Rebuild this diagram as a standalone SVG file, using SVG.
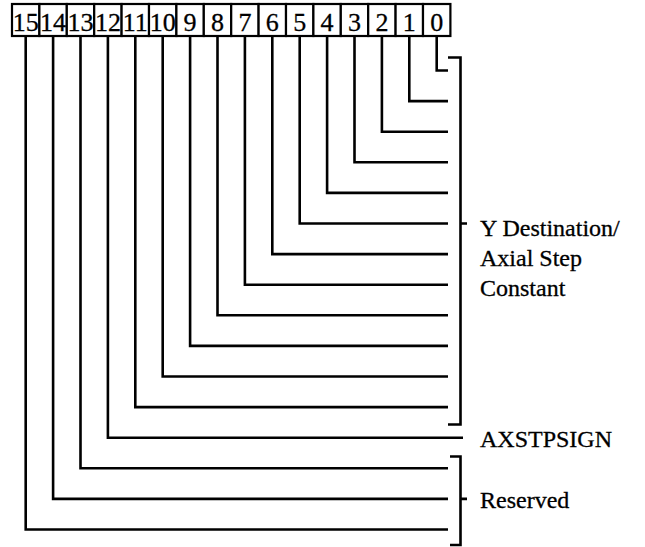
<svg xmlns="http://www.w3.org/2000/svg" width="645" height="547" viewBox="0 0 645 547">
<style>
.box{fill:#fff;stroke:#000;stroke-width:2.2}
.num{font-family:"Liberation Serif","Times New Roman",serif;font-size:26px;text-anchor:middle;fill:#000;stroke:#000;stroke-width:0.3}
.lbl{font-family:"Liberation Serif","Times New Roman",serif;font-size:24px;fill:#000;stroke:#000;stroke-width:0.3}
.ln{fill:none;stroke:#000;stroke-width:2.6;stroke-linejoin:miter;stroke-linecap:butt}
</style>
<rect width="645" height="547" fill="#fff"/>
<g id="bits">
<g id="bit15"><rect class="box" x="12" y="4" width="27.4" height="32"/><text class="num" x="25.7" y="31">15</text></g>
<g id="bit14"><rect class="box" x="39.4" y="4" width="27.4" height="32"/><text class="num" x="53.1" y="31">14</text></g>
<g id="bit13"><rect class="box" x="66.8" y="4" width="27.4" height="32"/><text class="num" x="80.5" y="31">13</text></g>
<g id="bit12"><rect class="box" x="94.2" y="4" width="27.4" height="32"/><text class="num" x="107.9" y="31">12</text></g>
<g id="bit11"><rect class="box" x="121.6" y="4" width="27.4" height="32"/><text class="num" x="135.3" y="31">11</text></g>
<g id="bit10"><rect class="box" x="149" y="4" width="27.4" height="32"/><text class="num" x="162.7" y="31">10</text></g>
<g id="bit9"><rect class="box" x="176.4" y="4" width="27.4" height="32"/><text class="num" x="190.1" y="31">9</text></g>
<g id="bit8"><rect class="box" x="203.8" y="4" width="27.4" height="32"/><text class="num" x="217.5" y="31">8</text></g>
<g id="bit7"><rect class="box" x="231.2" y="4" width="27.4" height="32"/><text class="num" x="244.9" y="31">7</text></g>
<g id="bit6"><rect class="box" x="258.6" y="4" width="27.4" height="32"/><text class="num" x="272.3" y="31">6</text></g>
<g id="bit5"><rect class="box" x="286" y="4" width="27.4" height="32"/><text class="num" x="299.7" y="31">5</text></g>
<g id="bit4"><rect class="box" x="313.4" y="4" width="27.4" height="32"/><text class="num" x="327.1" y="31">4</text></g>
<g id="bit3"><rect class="box" x="340.8" y="4" width="27.4" height="32"/><text class="num" x="354.5" y="31">3</text></g>
<g id="bit2"><rect class="box" x="368.2" y="4" width="27.4" height="32"/><text class="num" x="381.9" y="31">2</text></g>
<g id="bit1"><rect class="box" x="395.6" y="4" width="27.4" height="32"/><text class="num" x="409.3" y="31">1</text></g>
<g id="bit0"><rect class="box" x="423" y="4" width="27.4" height="32"/><text class="num" x="436.7" y="31">0</text></g>
</g>
<g id="connectors">
<path class="ln" d="M436.7 37V70.5H448"/>
<path class="ln" d="M409.3 37V101.1H448"/>
<path class="ln" d="M381.9 37V131.7H448"/>
<path class="ln" d="M354.5 37V162.3H448"/>
<path class="ln" d="M327.1 37V192.9H448"/>
<path class="ln" d="M299.7 37V223.5H448"/>
<path class="ln" d="M272.3 37V254.1H448"/>
<path class="ln" d="M244.9 37V284.7H448"/>
<path class="ln" d="M217.5 37V315.3H448"/>
<path class="ln" d="M190.1 37V345.9H448"/>
<path class="ln" d="M162.7 37V376.5H448"/>
<path class="ln" d="M135.3 37V407.1H448"/>
<path class="ln" d="M107.9 37V437.7H463"/>
<path class="ln" d="M80.5 37V468.3H448"/>
<path class="ln" d="M53.1 37V498.9H448"/>
<path class="ln" d="M25.7 37V529.5H448"/>
</g>
<g id="ydest">
<path class="ln" d="M448 57.5H460.5V424.5H448M460.5 223.5H467"/>
<text class="lbl" x="480" y="236">Y Destination/</text>
<text class="lbl" x="480" y="266">Axial Step</text>
<text class="lbl" x="480" y="296">Constant</text>
</g>
<g id="axstpsign">
<text class="lbl" x="480" y="447">AXSTPSIGN</text>
</g>
<g id="reserved">
<path class="ln" d="M450 456.5H460.5V545H450M460.5 498.9H467"/>
<text class="lbl" x="480" y="508">Reserved</text>
</g>
</svg>
